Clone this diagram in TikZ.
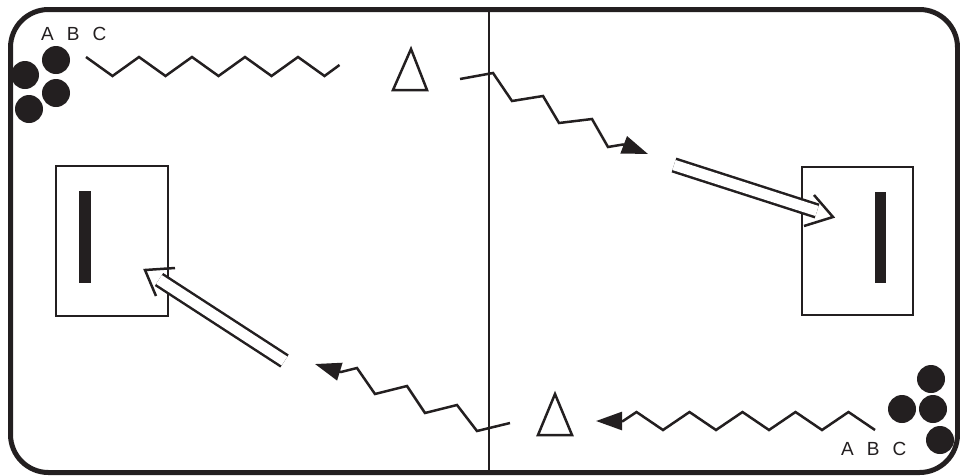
\documentclass[tikz,border=0pt]{standalone}
\usepackage{fontspec}
\setmainfont{Liberation Sans}
\usetikzlibrary{arrows.meta}
\definecolor{ink}{RGB}{35,31,32}
\newcommand\abcfont{\fontsize{19}{19}\selectfont\spaceskip=13pt plus 0pt\relax}
\tikzset{
  rim/.style={draw=ink,line width=5pt,rounded corners=38pt},
  net/.style={draw=ink,line width=2.8pt},
  goal/.style={draw=ink,line width=2.5pt},
  bar/.style={fill=ink},
  ball/.style={circle,fill=ink,inner sep=0pt,minimum size=28pt},
  cone/.style={draw=ink,line width=2.5pt,line join=miter},
  wave/.style={draw=ink,line width=2.5pt,line join=miter},
  pass/.style={wave,-{Triangle[length=26pt,width=18pt]}},
  shaft/.style={draw=ink,line width=2.5pt,double=white,double distance=10.5pt},
  barb/.style={draw=ink,line width=2.5pt,line join=miter},
  lbl/.style={font=\abcfont,text=ink,inner sep=0pt,anchor=base west},
}
\begin{document}
\begin{tikzpicture}[x=1pt,y=-1pt]
  \useasboundingbox (0,0) rectangle (960,475);
  % court and net
  \draw[rim] (10.5,9.5) rectangle (957.5,472.5);
  \coordinate (ntop) at (489,9.5);
  \coordinate (nbot) at (489,472.5);
  \draw[net] (ntop) -- (nbot);
  % goals
  \draw[goal] (56,166) rectangle (168,316);
  \fill[bar] (79,191) rectangle (91,283);
  \draw[goal] (802,167) rectangle (913,315);
  \fill[bar] (875,192) rectangle (886,283);
  % balls and labels
  \foreach \p [count=\i] in {(56,60),(25,75),(56,93),(29,109)}
    \node[ball] (tl\i) at \p {};
  \foreach \p [count=\i] in {(931,379),(902,409),(933,409),(940,440)}
    \node[ball] (br\i) at \p {};
  \node[lbl] (tlabc) at (41,40) {A B C};
  \node[lbl] (brabc) at (841,455) {A B C};
  % cones
  \draw[cone] (411,49) -- (427,90) -- (393,90) -- cycle;
  \draw[cone] (555,394) -- (572,435) -- (538,435) -- cycle;
  % dribbles
  \coordinate (tlw) at (86,57);
  \draw[wave] (tlw) foreach \k in {1,...,4} {-- ++(26.5,19) -- ++(26.5,-19)}
    -- ++(26.5,19) -- ++(15,-11);
  \coordinate (brw) at (875,430);
  \coordinate (brt) at (596,421);
  \draw[pass] (brw) foreach \k in {1,...,4} {-- ++(-26.5,-18) -- ++(-26.5,18)}
    -- ++(-26.5,-18) -- ++(-13.5,9) -- (brt);
  % passes over the net
  \coordinate (ps1) at (460,79);
  \coordinate (pt1) at (648,154);
  \draw[pass] (ps1) -- (493,73) -- (512,101) -- (543,96) -- (559,123)
    -- (592,119) -- (608,147) -- (623,144.5) -- (pt1);
  \coordinate (ps2) at (510,423);
  \coordinate (pt2) at (315,364);
  \draw[pass] (ps2) -- (477,431) -- (457,405) -- (425,413) -- (407,386)
    -- (375,394) -- (357,368) -- (341,372) -- (pt2);
  % shots
  \coordinate (rs) at (674,165);
  \coordinate (re) at (817,211);
  \draw[shaft] (rs) -- (re);
  \draw[barb] (814,195) -- (833,217) -- (804,226);
  \coordinate (ls) at (284.5,361);
  \coordinate (le) at (159,279.5);
  \draw[shaft] (ls) -- (le);
  \draw[barb] (175,268) -- (145,270) -- (156,296);
\end{tikzpicture}
\end{document}
